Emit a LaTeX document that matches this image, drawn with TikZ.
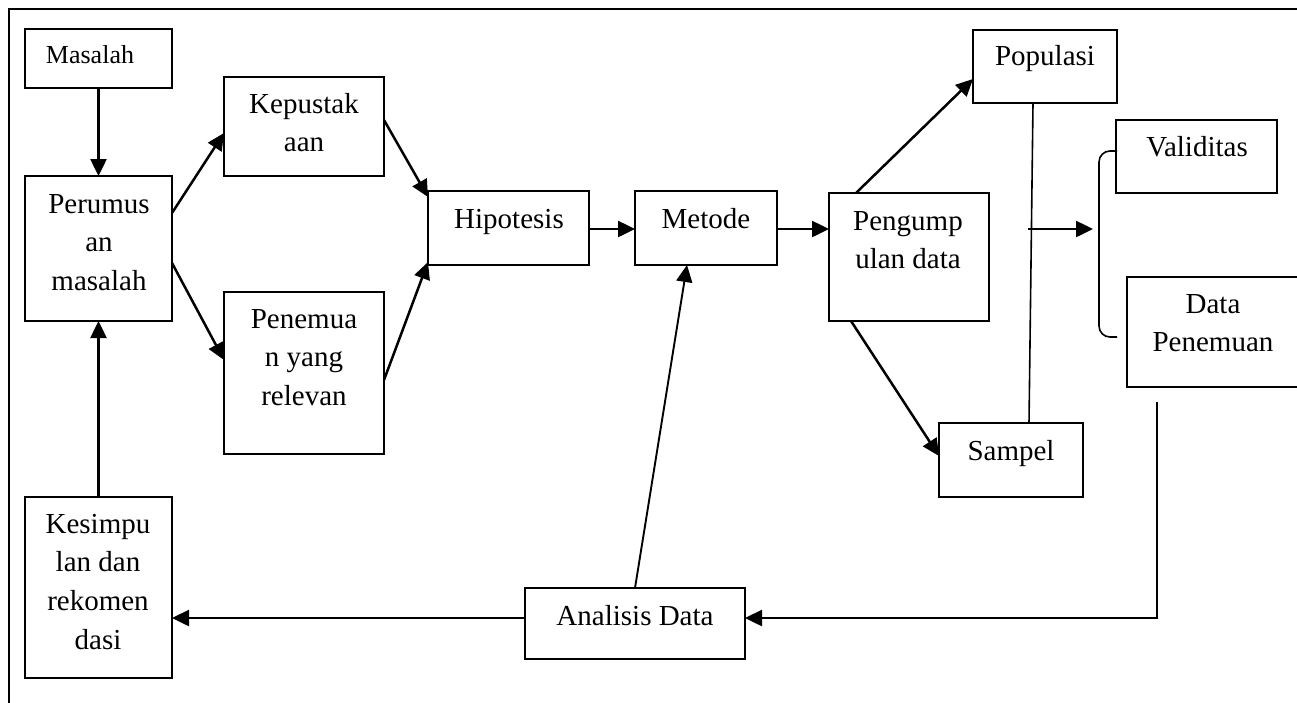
\documentclass[tikz,border=0pt]{standalone}
\usepackage{fontspec}
\setmainfont{Liberation Serif}
\usetikzlibrary{arrows.meta,calc}
\begin{document}
\begin{tikzpicture}[x=1pt,y=-1pt,
  boxst/.style={draw=black,line width=2.4pt,rectangle,anchor=north west,inner sep=0pt,outer sep=0pt},
  txt/.style={anchor=base,inner sep=0pt,align=center,font=\fontsize{29}{38.7}\selectfont},
  conn/.style={line width=2.5pt,-{Triangle[length=17pt,width=16pt]}},
  thin/.style={line width=1.6pt},
  frame/.style={line width=2pt}]
\useasboundingbox (0,0) rectangle (1297,702);
\draw[frame] (1300,9) -- (9,9) -- (9,705);
% boxes
\node[boxst,minimum width=147pt,minimum height=59pt] (masalah) at (25,29) {};
\node[boxst,minimum width=147pt,minimum height=145pt] (perum) at (25,176) {};
\node[boxst,minimum width=160pt,minimum height=99pt] (kepus) at (224,77) {};
\node[boxst,minimum width=160pt,minimum height=162pt] (penem) at (224,292) {};
\node[boxst,minimum width=147pt,minimum height=181pt] (kesim) at (25,497) {};
\node[boxst,minimum width=161pt,minimum height=74pt] (hipo) at (428,191) {};
\node[boxst,minimum width=142pt,minimum height=74pt] (metode) at (635,191) {};
\node[boxst,minimum width=160pt,minimum height=128pt] (pengum) at (829,193) {};
\node[boxst,minimum width=144pt,minimum height=73pt] (popul) at (973,30) {};
\node[boxst,minimum width=144pt,minimum height=74pt] (sampel) at (939,423) {};
\node[boxst,minimum width=161pt,minimum height=73pt] (valid) at (1116,120) {};
\node[boxst,minimum width=173pt,minimum height=110pt] (datap) at (1127,277) {};
\node[boxst,minimum width=220pt,minimum height=71pt] (analisis) at (525,588) {};
% texts (anchor = baseline of the last line)
\node[txt,font=\fontsize{26}{34}\selectfont] (masalah-t) at (90,63) {Masalah};
\node[txt] (perum-t) at (99,290.4) {Perumus\\an\\masalah};
\node[txt] (kepus-t) at (304,151.7) {Kepustak\\aan};
\node[txt] (penem-t) at (304,405.4) {Penemua\\n yang\\relevan};
\node[txt] (kesim-t) at (98,649.1) {Kesimpu\\lan dan\\rekomen\\dasi};
\node[txt] (hipo-t) at (509,228) {Hipotesis};
\node[txt] (metode-t) at (706,228) {Metode};
\node[txt] (pengum-t) at (908,268.7) {Pengump\\ulan data};
\node[txt] (popul-t) at (1045,65) {Populasi};
\node[txt] (sampel-t) at (1011,460) {Sampel};
\node[txt] (valid-t) at (1197,156) {Validitas};
\node[txt] (datap-t) at (1213,351.7) {Data\\Penemuan};
\node[txt] (analisis-t) at (635,625) {Analisis Data};
% connectors
\draw[conn] (masalah.south) -- (perum.north);
\draw[conn] (kesim.north) -- (perum.south);
\draw[conn] ($(perum.north east)+(0,37)$) -- ($(kepus.north west)+(0,56)$);
\draw[conn] ($(perum.north east)+(0,87)$) -- ($(penem.north west)+(0,68)$);
\draw[conn] ($(kepus.north east)+(0,43)$) -- ($(hipo.north west)+(0,6)$);
\draw[conn] ($(penem.north east)+(0,88)$) -- ($(hipo.north west)+(0,71)$);
\draw[conn] ($(hipo.north east)+(0,38)$) -- ($(metode.north west)+(0,38)$);
\draw[conn] ($(metode.north east)+(0,38)$) -- ($(pengum.north west)+(0,36)$);
\draw[conn] ($(pengum.north west)+(27,0)$) -- ($(popul.north west)+(0,49)$);
\draw[conn] ($(pengum.south west)+(22,0)$) -- ($(sampel.north west)+(0,33)$);
\draw[thin] ($(popul.south west)+(60,0)$) -- ($(sampel.north west)+(90,0)$);
\coordinate (midpt) at (1028,229);
\coordinate (brk) at (1093,229);
\draw[conn] (midpt) -- (brk);
\draw[thin,rounded corners=11pt] ($(valid.north west)+(1,31)$) -- (1099,151) -- (1099,337) -- ($(datap.north west)+(-10,60)$);
\coordinate (dpend) at ($(datap.south west)+(30,15)$);
\draw[conn] (dpend) -- (1157,618) -- ($(analisis.north east)+(0,30)$);
\draw[conn] ($(analisis.north west)+(0,30)$) -- ($(kesim.north east)+(0,121)$);
\draw[line width=1.9pt,-{Triangle[length=17pt,width=16pt]}] (analisis.north) -- ($(metode.south west)+(52,0)$);
\end{tikzpicture}
\end{document}
